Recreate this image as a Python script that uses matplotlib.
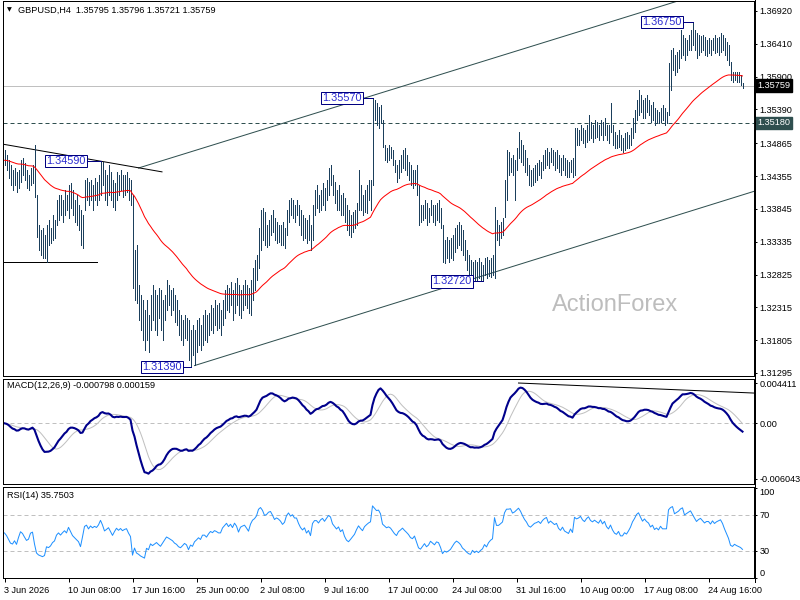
import numpy as np
import pandas as pd
import matplotlib.pyplot as plt
from matplotlib.lines import Line2D
from matplotlib.transforms import blended_transform_factory

plt.rcParams['font.family'] = ['Liberation Sans', 'DejaVu Sans']

# GBPUSD H4 bars (oldest first)
highs = [
    1.3476, 1.3468, 1.3460, 1.3453, 1.3445, 1.3448, 1.3442, 1.3445, 1.3460, 1.3464,
    1.3456, 1.3445, 1.3437, 1.3448, 1.3453, 1.3484, 1.3406, 1.3359, 1.3352, 1.3355,
    1.3344, 1.3359, 1.3367, 1.3355, 1.3375, 1.3367, 1.3398, 1.3406, 1.3406, 1.3398,
    1.3414, 1.3406, 1.3421, 1.3425, 1.3414, 1.3398, 1.3406, 1.3391, 1.3383, 1.3375,
    1.3429, 1.3433, 1.3426, 1.3429, 1.3421, 1.3433, 1.3426, 1.3437, 1.3459, 1.3457,
    1.3445, 1.3437, 1.3453, 1.3442, 1.3429, 1.3425, 1.3442, 1.3437, 1.3445, 1.3437,
    1.3437, 1.3442, 1.3433, 1.3429, 1.3406, 1.3321, 1.3328, 1.3266, 1.3251, 1.3243,
    1.3227, 1.3243, 1.3220, 1.3251, 1.3266, 1.3258, 1.3251, 1.3261, 1.3258, 1.3243,
    1.3251, 1.3274, 1.3266, 1.3258, 1.3261, 1.3251, 1.3243, 1.3227, 1.3220, 1.3212,
    1.3220, 1.3215, 1.3212, 1.3196, 1.3204, 1.3196, 1.3212, 1.3215, 1.3204, 1.3220,
    1.3227, 1.3220, 1.3223, 1.3235, 1.3230, 1.3243, 1.3235, 1.3238, 1.3227, 1.3243,
    1.3258, 1.3266, 1.3261, 1.3271, 1.3258, 1.3269, 1.3277, 1.3266, 1.3258, 1.3266,
    1.3274, 1.3266, 1.3261, 1.3274, 1.3293, 1.3305, 1.3313, 1.3355, 1.3383, 1.3386,
    1.3380, 1.3359, 1.3367, 1.3375, 1.3383, 1.3370, 1.3364, 1.3359, 1.3359, 1.3364,
    1.3355, 1.3383, 1.3398, 1.3401, 1.3398, 1.3391, 1.3398, 1.3391, 1.3383, 1.3375,
    1.3370, 1.3367, 1.3375, 1.3359, 1.3391, 1.3414, 1.3421, 1.3406, 1.3414, 1.3425,
    1.3417, 1.3429, 1.3448, 1.3453, 1.3437, 1.3426, 1.3414, 1.3421, 1.3406, 1.3409,
    1.3401, 1.3391, 1.3383, 1.3375, 1.3380, 1.3383, 1.3394, 1.3445, 1.3421, 1.3406,
    1.3414, 1.3421, 1.3429, 1.3429, 1.3557, 1.3554, 1.3549, 1.3543, 1.3546, 1.3523,
    1.3484, 1.3479, 1.3484, 1.3481, 1.3476, 1.3460, 1.3453, 1.3460, 1.3468, 1.3476,
    1.3479, 1.3468, 1.3457, 1.3453, 1.3445, 1.3445, 1.3453, 1.3421, 1.3391, 1.3391,
    1.3398, 1.3394, 1.3386, 1.3398, 1.3391, 1.3391, 1.3394, 1.3398, 1.3386, 1.3359,
    1.3336, 1.3341, 1.3336, 1.3339, 1.3344, 1.3355, 1.3359, 1.3364, 1.3359, 1.3352,
    1.3336, 1.3321, 1.3313, 1.3305, 1.3302, 1.3305, 1.3302, 1.3308, 1.3302, 1.3297,
    1.3308, 1.3310, 1.3305, 1.3308, 1.3313, 1.3387, 1.3367, 1.3359, 1.3364, 1.3370,
    1.3429, 1.3476, 1.3473, 1.3464, 1.3468, 1.3460, 1.3479, 1.3504, 1.3491, 1.3484,
    1.3476, 1.3464, 1.3453, 1.3445, 1.3448, 1.3453, 1.3456, 1.3460, 1.3457, 1.3468,
    1.3476, 1.3479, 1.3473, 1.3479, 1.3476, 1.3473, 1.3476, 1.3468, 1.3464, 1.3468,
    1.3464, 1.3460, 1.3457, 1.3460, 1.3464, 1.3510, 1.3510, 1.3507, 1.3515, 1.3510,
    1.3507, 1.3515, 1.3530, 1.3519, 1.3515, 1.3523, 1.3519, 1.3515, 1.3523, 1.3519,
    1.3526, 1.3515, 1.3515, 1.3549, 1.3515, 1.3504, 1.3499, 1.3507, 1.3499, 1.3495,
    1.3502, 1.3504, 1.3499, 1.3510, 1.3526, 1.3538, 1.3554, 1.3569, 1.3561, 1.3554,
    1.3557, 1.3561, 1.3554, 1.3546, 1.3550, 1.3541, 1.3538, 1.3535, 1.3541, 1.3546,
    1.3541, 1.3535, 1.3611, 1.3631, 1.3634, 1.3624, 1.3628, 1.3631, 1.3662, 1.3655,
    1.3650, 1.3647, 1.3655, 1.3662, 1.3675, 1.3662, 1.3658, 1.3655, 1.3653, 1.3655,
    1.3652, 1.3647, 1.3650, 1.3647, 1.3650, 1.3655, 1.3650, 1.3652, 1.3658, 1.3655,
    1.3650, 1.3644, 1.3639, 1.3613, 1.3597, 1.3597, 1.3597, 1.3597, 1.3592, 1.35796,
]
lows = [
    1.3453, 1.3445, 1.3433, 1.3421, 1.3414, 1.3421, 1.3411, 1.3417, 1.3426, 1.3437,
    1.3429, 1.3417, 1.3414, 1.3421, 1.3425, 1.3403, 1.3341, 1.3321, 1.3313, 1.3308,
    1.3308, 1.3302, 1.3328, 1.3331, 1.3336, 1.3339, 1.3359, 1.3367, 1.3375, 1.3364,
    1.3375, 1.3383, 1.3370, 1.3386, 1.3375, 1.3364, 1.3359, 1.3352, 1.3328, 1.3324,
    1.3383, 1.3398, 1.3391, 1.3398, 1.3383, 1.3398, 1.3391, 1.3398, 1.3406, 1.3421,
    1.3398, 1.3391, 1.3406, 1.3398, 1.3387, 1.3383, 1.3398, 1.3406, 1.3414, 1.3403,
    1.3406, 1.3411, 1.3398, 1.3391, 1.3261, 1.3243, 1.3238, 1.3212, 1.3196, 1.3181,
    1.3165, 1.3181, 1.3162, 1.3196, 1.3212, 1.3196, 1.3189, 1.3215, 1.3196, 1.3181,
    1.3212, 1.3227, 1.3235, 1.3220, 1.3227, 1.3209, 1.3204, 1.3189, 1.3181, 1.3173,
    1.3184, 1.3181, 1.3150, 1.3139, 1.3157, 1.3142, 1.3162, 1.3173, 1.3165, 1.3173,
    1.3181, 1.3177, 1.3189, 1.3196, 1.3192, 1.3204, 1.3196, 1.3199, 1.3189, 1.3204,
    1.3215, 1.3227, 1.3224, 1.3235, 1.3212, 1.3223, 1.3235, 1.3220, 1.3215, 1.3227,
    1.3235, 1.3230, 1.3223, 1.3220, 1.3243, 1.3258, 1.3274, 1.3293, 1.3321, 1.3336,
    1.3328, 1.3325, 1.3328, 1.3344, 1.3349, 1.3336, 1.3331, 1.3333, 1.3328, 1.3328,
    1.3324, 1.3344, 1.3364, 1.3375, 1.3370, 1.3364, 1.3375, 1.3359, 1.3344, 1.3336,
    1.3339, 1.3331, 1.3336, 1.3321, 1.3336, 1.3375, 1.3386, 1.3380, 1.3383, 1.3391,
    1.3383, 1.3398, 1.3406, 1.3421, 1.3406, 1.3394, 1.3383, 1.3383, 1.3375, 1.3375,
    1.3364, 1.3352, 1.3344, 1.3341, 1.3349, 1.3355, 1.3359, 1.3383, 1.3383, 1.3375,
    1.3380, 1.3378, 1.3398, 1.3383, 1.3421, 1.3523, 1.3515, 1.3510, 1.3518, 1.3481,
    1.3460, 1.3457, 1.3460, 1.3464, 1.3453, 1.3442, 1.3426, 1.3433, 1.3442, 1.3448,
    1.3445, 1.3437, 1.3429, 1.3421, 1.3417, 1.3421, 1.3406, 1.3359, 1.3364, 1.3367,
    1.3370, 1.3359, 1.3364, 1.3375, 1.3364, 1.3359, 1.3367, 1.3364, 1.3355, 1.3302,
    1.3300, 1.3308, 1.3302, 1.3308, 1.3305, 1.3317, 1.3324, 1.3328, 1.3321, 1.3313,
    1.3305, 1.3289, 1.3282, 1.3274, 1.3277, 1.3274, 1.3273, 1.3277, 1.3274, 1.3272,
    1.3282, 1.3277, 1.3280, 1.3279, 1.3282, 1.3277, 1.3336, 1.3328, 1.3339, 1.3344,
    1.3372, 1.3398, 1.3437, 1.3442, 1.3437, 1.3398, 1.3445, 1.3464, 1.3457, 1.3453,
    1.3442, 1.3437, 1.3421, 1.3420, 1.3421, 1.3426, 1.3429, 1.3437, 1.3433, 1.3445,
    1.3448, 1.3453, 1.3448, 1.3457, 1.3453, 1.3445, 1.3448, 1.3442, 1.3437, 1.3445,
    1.3437, 1.3434, 1.3434, 1.3442, 1.3434, 1.3437, 1.3484, 1.3484, 1.3491, 1.3487,
    1.3481, 1.3488, 1.3491, 1.3495, 1.3488, 1.3495, 1.3496, 1.3491, 1.3499, 1.3491,
    1.3499, 1.3491, 1.3487, 1.3504, 1.3484, 1.3479, 1.3479, 1.3481, 1.3476, 1.3473,
    1.3476, 1.3479, 1.3479, 1.3484, 1.3495, 1.3504, 1.3523, 1.3530, 1.3535, 1.3526,
    1.3526, 1.3535, 1.3530, 1.3519, 1.3523, 1.3515, 1.3518, 1.3518, 1.3519, 1.3523,
    1.3515, 1.3518, 1.3530, 1.3569, 1.3600, 1.3592, 1.3597, 1.3603, 1.3619, 1.3624,
    1.3616, 1.3624, 1.3631, 1.3631, 1.3639, 1.3631, 1.3619, 1.3624, 1.3628, 1.3631,
    1.3624, 1.3622, 1.3627, 1.3624, 1.3631, 1.3627, 1.3628, 1.3624, 1.3628, 1.3631,
    1.3624, 1.3616, 1.3608, 1.3585, 1.3582, 1.3585, 1.3582, 1.3582, 1.3577, 1.35721,
]
closes = [
    1.3460, 1.3453, 1.3442, 1.3429, 1.3426, 1.3433, 1.3421, 1.3437, 1.3453, 1.3448,
    1.3437, 1.3426, 1.3429, 1.3445, 1.3448, 1.3406, 1.3352, 1.3336, 1.3328, 1.3321,
    1.3324, 1.3349, 1.3344, 1.3349, 1.3359, 1.3364, 1.3383, 1.3391, 1.3383, 1.3391,
    1.3398, 1.3391, 1.3411, 1.3398, 1.3383, 1.3375, 1.3367, 1.3359, 1.3336, 1.3367,
    1.3414, 1.3421, 1.3406, 1.3421, 1.3414, 1.3421, 1.3417, 1.3429, 1.3453, 1.3437,
    1.3414, 1.3421, 1.3429, 1.3414, 1.3398, 1.3414, 1.3429, 1.3421, 1.3429, 1.3421,
    1.3426, 1.3429, 1.3414, 1.3401, 1.3274, 1.3305, 1.3251, 1.3235, 1.3212, 1.3196,
    1.3181, 1.3227, 1.3212, 1.3243, 1.3227, 1.3235, 1.3243, 1.3227, 1.3212, 1.3227,
    1.3243, 1.3258, 1.3251, 1.3243, 1.3235, 1.3220, 1.3212, 1.3196, 1.3189, 1.3196,
    1.3204, 1.3196, 1.3165, 1.3181, 1.3173, 1.3189, 1.3196, 1.3204, 1.3196, 1.3212,
    1.3212, 1.3204, 1.3215, 1.3224, 1.3220, 1.3227, 1.3224, 1.3220, 1.3220, 1.3235,
    1.3243, 1.3251, 1.3243, 1.3251, 1.3243, 1.3258, 1.3251, 1.3235, 1.3251, 1.3255,
    1.3258, 1.3251, 1.3243, 1.3266, 1.3282, 1.3289, 1.3302, 1.3344, 1.3359, 1.3352,
    1.3339, 1.3344, 1.3359, 1.3364, 1.3355, 1.3344, 1.3352, 1.3349, 1.3344, 1.3336,
    1.3344, 1.3375, 1.3391, 1.3383, 1.3391, 1.3383, 1.3383, 1.3370, 1.3359, 1.3352,
    1.3359, 1.3344, 1.3352, 1.3336, 1.3383, 1.3398, 1.3398, 1.3391, 1.3406, 1.3414,
    1.3406, 1.3421, 1.3437, 1.3433, 1.3414, 1.3406, 1.3398, 1.3406, 1.3391, 1.3398,
    1.3375, 1.3359, 1.3352, 1.3359, 1.3367, 1.3375, 1.3391, 1.3406, 1.3398, 1.3391,
    1.3406, 1.3414, 1.3421, 1.3426, 1.3546, 1.3538, 1.3530, 1.3535, 1.3523, 1.3484,
    1.3476, 1.3468, 1.3473, 1.3468, 1.3457, 1.3445, 1.3437, 1.3453, 1.3460, 1.3468,
    1.3460, 1.3453, 1.3445, 1.3433, 1.3429, 1.3437, 1.3414, 1.3383, 1.3375, 1.3383,
    1.3391, 1.3375, 1.3380, 1.3391, 1.3383, 1.3375, 1.3383, 1.3380, 1.3359, 1.3321,
    1.3328, 1.3321, 1.3324, 1.3328, 1.3336, 1.3344, 1.3349, 1.3344, 1.3336, 1.3321,
    1.3313, 1.3302, 1.3293, 1.3289, 1.3297, 1.3286, 1.3289, 1.3282, 1.3286, 1.3289,
    1.3297, 1.3289, 1.3297, 1.3302, 1.3305, 1.3375, 1.3352, 1.3352, 1.3359, 1.3367,
    1.3421, 1.3453, 1.3453, 1.3457, 1.3445, 1.3453, 1.3468, 1.3484, 1.3476, 1.3464,
    1.3453, 1.3445, 1.3433, 1.3429, 1.3437, 1.3445, 1.3448, 1.3453, 1.3448, 1.3460,
    1.3468, 1.3473, 1.3460, 1.3468, 1.3464, 1.3460, 1.3464, 1.3453, 1.3448, 1.3457,
    1.3448, 1.3445, 1.3442, 1.3453, 1.3445, 1.3499, 1.3495, 1.3499, 1.3507, 1.3499,
    1.3495, 1.3507, 1.3515, 1.3507, 1.3504, 1.3510, 1.3507, 1.3504, 1.3515, 1.3507,
    1.3515, 1.3504, 1.3499, 1.3510, 1.3499, 1.3491, 1.3488, 1.3495, 1.3484, 1.3484,
    1.3491, 1.3488, 1.3495, 1.3504, 1.3519, 1.3530, 1.3546, 1.3554, 1.3546, 1.3538,
    1.3546, 1.3541, 1.3538, 1.3530, 1.3535, 1.3526, 1.3530, 1.3526, 1.3535, 1.3530,
    1.3530, 1.3530, 1.3600, 1.3616, 1.3624, 1.3608, 1.3616, 1.3624, 1.3639, 1.3647,
    1.3631, 1.3639, 1.3647, 1.3655, 1.3647, 1.3639, 1.3631, 1.3639, 1.3644, 1.3639,
    1.3634, 1.3639, 1.3639, 1.3634, 1.3644, 1.3639, 1.3644, 1.3647, 1.3650, 1.3644,
    1.3634, 1.3624, 1.3613, 1.3592, 1.3588, 1.3592, 1.3588, 1.3585, 1.3582, 1.35759,
]

header = "GBPUSD,H4  1.35795 1.35796 1.35721 1.35759"
macd_title = "MACD(12,26,9) -0.000798 0.000159"
rsi_title = "RSI(14) 35.7503"
last_price = 1.35759
support_level = 1.35180

price_ticks = [1.36920, 1.36410, 1.35900, 1.35390, 1.34865, 1.34355,
               1.33845, 1.33335, 1.32825, 1.32315, 1.31805, 1.31295]
macd_ticks = [0.004411, 0.0, -0.006043]
macd_tick_labels = ["0.004411", "0.00", "-0.006043"]
rsi_ticks = [100, 70, 30, 0]

date_bars = [0, 32, 64, 96, 128, 160, 192, 224, 256, 288, 320, 352]
date_labels = ["3 Jun 2026", "10 Jun 08:00", "17 Jun 16:00", "25 Jun 00:00",
               "2 Jul 08:00", "9 Jul 16:00", "17 Jul 00:00", "24 Jul 08:00",
               "31 Jul 16:00", "10 Aug 00:00", "17 Aug 08:00", "24 Aug 16:00"]

swing_bars = [48, 184, 344, 93, 239]
swing_prices = [1.34590, 1.35570, 1.36750, 1.31390, 1.32720]
swing_gap = [7, 5, 5, 4, 5]  # bars between box and bar

# drawn trend lines (bar index, price)
upper_channel = ([67, 345], [1.3448, 1.37155])
lower_channel = ([95, 375], [1.3141, 1.3412])
down_line = ([-0.75, 78.75], [1.3485, 1.3442])
low_line = ([-0.75, 46.25], [1.3302, 1.3302])
macd_line = ([257, 375], [0.004411, 0.00331])

# indicators
close = pd.Series(closes)
ema55 = close.ewm(span=55, adjust=False).mean()
macd = close.ewm(span=12, adjust=False).mean() - close.ewm(span=26, adjust=False).mean()
signal = macd.rolling(9, min_periods=1).mean()

# RSI(14), Wilder smoothing, started from a neutral level
d = np.diff(np.array(closes), prepend=closes[0])
avg_g = avg_l = np.abs(d[1:15]).mean() / 2
rsi = np.zeros(len(d))
for k, dv in enumerate(d):
    avg_g = (avg_g * 13 + max(dv, 0)) / 14
    avg_l = (avg_l * 13 + max(-dv, 0)) / 14
    rsi[k] = 100 - 100 / (1 + avg_g / avg_l)

n = len(closes)
x = np.arange(n)
W, H = 800, 600

bar_col = '#1b3f5c'
slate = '#2f4f4f'
grey = '#c0c0c0'
fs = 6.6
lw1 = 0.72

fig = plt.figure(figsize=(8, 6), dpi=100)
fig.patch.set_facecolor('white')


def panel(top, bottom):
    return fig.add_axes([3 / W, 1 - bottom / H, 751 / W, (bottom - top) / H])


ax1 = panel(1, 376)
ax2 = panel(379, 484)
ax3 = panel(487, 578)

for ax in (ax1, ax2, ax3):
    ax.set_xlim(-0.75, 374.75)
    for s in ax.spines.values():
        s.set_linewidth(lw1)
        s.set_color('black')
    ax.yaxis.tick_right()
    ax.tick_params(axis='y', direction='out', length=2.5, width=lw1, pad=1.5,
                   labelsize=fs, colors='black')
for ax in (ax1, ax2):
    ax.tick_params(axis='x', bottom=False, labelbottom=False)

# main price panel
ax1.set_ylim(1.31248, 1.37075)
ax1.axhline(last_price, color=grey, lw=lw1)
ax1.axhline(support_level, color=slate, lw=lw1, ls=(0, (4, 3)))
ax1.plot(*upper_channel, color=slate, lw=lw1)
ax1.plot(*lower_channel, color=slate, lw=lw1)
ax1.plot(*down_line, color='black', lw=lw1)
ax1.plot(*low_line, color='black', lw=lw1)
ax1.vlines(x, lows, highs, color=bar_col, lw=0.6, antialiased=False)
ax1.plot(x, ema55, color='red', lw=lw1)
ax1.set_yticks(price_ticks)
ax1.set_yticklabels([f"{v:.5f}" for v in price_ticks])

for b, p, g in zip(swing_bars, swing_prices, swing_gap):
    ax1.plot([b - g, b], [p, p], color='#000080', lw=lw1)
    ax1.text(b - g - 0.6, p, f"{p:.5f}", ha='right', va='center', fontsize=7.8,
             color='#2a2ad0',
             bbox=dict(boxstyle='square,pad=0.12', fc='white', ec='#000080', lw=lw1))

ax1.text(0.815, 0.19, "ActionForex", transform=ax1.transAxes, ha='center',
         va='center', fontsize=17, color='#bdbdbd')

tr = blended_transform_factory(ax1.transAxes, ax1.transData)
ax1.text(1 + 3 / 751, last_price, f"{last_price:.5f}", transform=tr, ha='left',
         va='center', fontsize=fs, color='white', clip_on=False,
         bbox=dict(boxstyle='square,pad=0.2', fc='black', ec='black'))
ax1.text(1 + 3 / 751, support_level, f"{support_level:.5f}", transform=tr, ha='left',
         va='center', fontsize=fs, color='white', clip_on=False,
         bbox=dict(boxstyle='square,pad=0.2', fc=slate, ec=slate))

# MACD panel
ax2.set_ylim(-0.00664, 0.00485)
ax2.axhline(0, color=grey, lw=lw1, ls=(0, (4, 3)))
ax2.plot(x, signal, color=grey, lw=lw1)
ax2.plot(x, macd, color='#00008b', lw=1.5)
ax2.plot(*macd_line, color='black', lw=lw1)
ax2.set_yticks(macd_ticks)
ax2.set_yticklabels(macd_tick_labels)

# RSI panel
ax3.set_ylim(0, 101)
ax3.axhline(70, color=grey, lw=lw1, ls=(0, (4, 3)))
ax3.axhline(30, color=grey, lw=lw1, ls=(0, (4, 3)))
ax3.plot(x, rsi, color='#1e90ff', lw=lw1)
ax3.set_yticks(rsi_ticks)
ax3.set_yticklabels([str(v) for v in rsi_ticks])
labs = ax3.get_yticklabels()
labs[0].set_va('top')
labs[-1].set_va('bottom')
ax3.set_xticks(date_bars)
ax3.set_xticklabels(date_labels, ha='left')
ax3.tick_params(axis='x', direction='out', length=3, width=lw1, pad=3, labelsize=fs)

# header texts
fig.text(7 / W, 1 - 10 / H, "\u25bc", fontsize=4.5, family='DejaVu Sans', va='center')
fig.text(18 / W, 1 - 10 / H, header, fontsize=fs, va='center')
fig.text(7 / W, 1 - 386 / H, macd_title, fontsize=fs, va='center')
fig.text(7 / W, 1 - 495 / H, rsi_title, fontsize=fs, va='center')

fig.add_artist(Line2D([754.5 / W, 754.5 / W], [1, 1 - 582 / H], color='black', lw=lw1))

fig.savefig('out.png', dpi=100)
